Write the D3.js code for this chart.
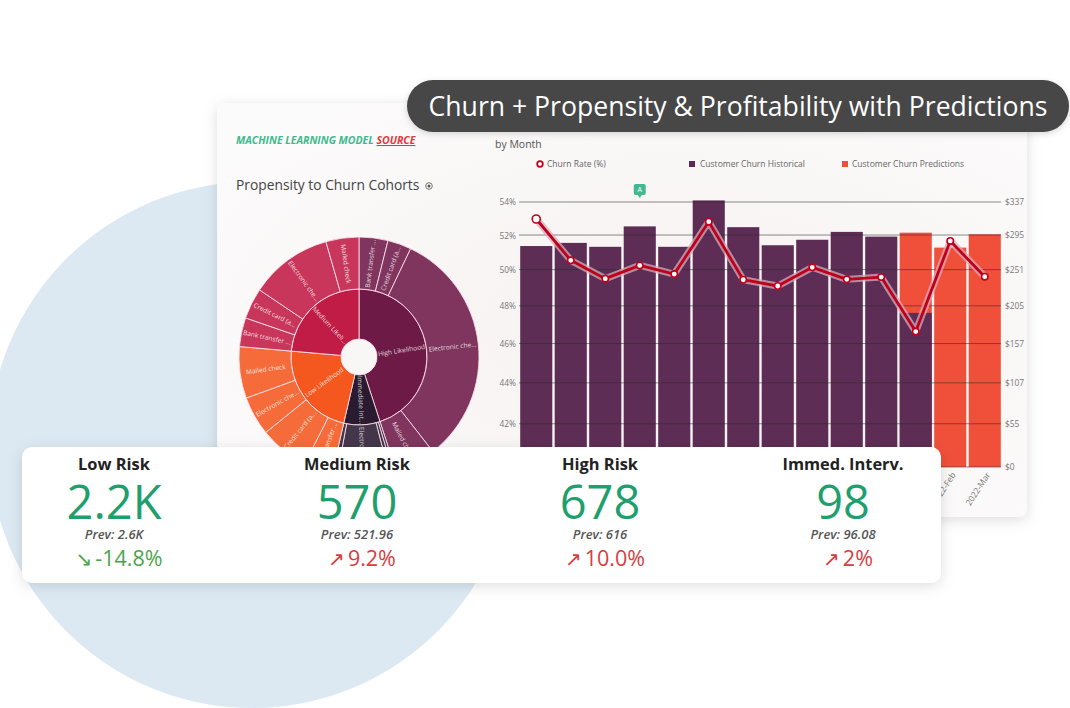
<!DOCTYPE html>
<html><head><meta charset="utf-8">
<script src="https://cdn.jsdelivr.net/npm/d3@7"></script>
<style>
html,body{margin:0;padding:0;background:#fff;}
svg{display:block;font-family:"Open Sans",sans-serif;}
</style></head>
<body><svg id="c" width="1070" height="708"></svg>
<script>
// ---------- DATA ----------
const months = ["2021-Feb","2021-Mar","2021-Apr","2021-May","2021-Jun","2021-Jul","2021-Aug","2021-Sep","2021-Oct","2021-Nov","2021-Dec","2022-Jan","2022-Feb","2022-Mar"];
const churnHistorical = [281,285,280,306,280,339,305,282,289,299,293,196,null,null];
const churnPredictions = [null,null,null,null,null,null,null,null,null,null,null,298,279,296];
const churnRate = [52.97,50.55,49.51,50.26,49.77,52.81,49.45,49.10,50.15,49.47,49.60,46.63,51.67,49.62];
const pctTicks = [42,44,46,48,50,52,54];
const dollarTicks = [0,55,107,157,205,251,295,337];

const cohorts = ["High Likelihood","Immediate Intervention","Low Likelihood","Medium Likelihood"];
const methods = ["Bank transfer (automatic)","Credit card (automatic)","Electronic check","Mailed check"];
const cohortMethodValues = [[14,11.5,116.5,20],[1.5,2,25,2.5],[14,24,19,25],[14,15,40,16]];
const cohortColors = ["#6d1a47","#2a1b31","#f4581f","#c01c45"];

const kpiTitles = ["Low Risk","Medium Risk","High Risk","Immed. Interv."];
const kpiValues = ["2.2K","570","678","98"];
const kpiPrev = ["Prev: 2.6K","Prev: 521.96","Prev: 616","Prev: 96.08"];
const kpiChange = ["-14.8%","9.2%","10.0%","2%"];
const kpiUp = [false,true,true,true];

// ---------- SETUP ----------
const svg = d3.select("#c");
const defs = svg.append("defs");
const f = defs.append("filter").attr("id","sh").attr("x","-10%").attr("y","-15%").attr("width","120%").attr("height","140%");
f.append("feDropShadow").attr("dx",0).attr("dy",3).attr("stdDeviation",7).attr("flood-color","#000").attr("flood-opacity",0.13);
const f2 = defs.append("filter").attr("id","sh2").attr("x","-10%").attr("y","-30%").attr("width","120%").attr("height","170%");
f2.append("feDropShadow").attr("dx",0).attr("dy",2).attr("stdDeviation",3).attr("flood-color","#000").attr("flood-opacity",0.15);
const rg = defs.append("radialGradient").attr("id","pbg").attr("cx","0.55").attr("cy","0.55").attr("r","0.7");
rg.append("stop").attr("offset","0").attr("stop-color","#f6f1f0");
rg.append("stop").attr("offset","1").attr("stop-color","#fcfbfb");

// background circle
svg.append("circle").attr("cx",252).attr("cy",445).attr("r",263).attr("fill","#dce9f3");

// main panel
svg.append("rect").attr("x",217).attr("y",103).attr("width",810).attr("height",414).attr("rx",8)
  .attr("fill","url(#pbg)").attr("filter","url(#sh)");

// title pill
svg.append("rect").attr("x",407).attr("y",80).attr("width",662).attr("height",52).attr("rx",26)
  .attr("fill","#474747").attr("filter","url(#sh2)");
svg.append("text").attr("x",738).attr("y",107).attr("dy","0.35em").attr("text-anchor","middle")
  .attr("fill","#fff").attr("font-size",26.6).text("Churn + Propensity & Profitability with Predictions");

// left header
const hdr = svg.append("text").attr("x",236).attr("y",144).attr("font-size",10.5).attr("font-style","italic").attr("font-weight",700);
hdr.append("tspan").attr("fill","#3dba8c").text("MACHINE LEARNING MODEL ");
hdr.append("tspan").attr("fill","#e0393e").attr("text-decoration","underline").text("SOURCE");
svg.append("text").attr("x",236).attr("y",190).attr("font-size",13.8).attr("fill","#444").text("Propensity to Churn Cohorts");
svg.append("circle").attr("cx",429).attr("cy",186).attr("r",3.3).attr("fill","none").attr("stroke","#666").attr("stroke-width",0.9);
svg.append("circle").attr("cx",429).attr("cy",186).attr("r",1.5).attr("fill","#555");

// ---------- SUNBURST ----------
const hdata = {name:"root", children: cohorts.map((c,i)=>({name:c, ci:i, children: methods.map((m,j)=>({name:m, ci:i, value:cohortMethodValues[i][j]}))}))};
const root = d3.hierarchy(hdata).sum(d=>d.value||0);
d3.partition().size([2*Math.PI,1])(root);
const rIn = d=> d.depth===1?18:68, rOut = d=> d.depth===1?68:120;
const arc = d3.arc().startAngle(d=>d.x0).endAngle(d=>d.x1).innerRadius(rIn).outerRadius(rOut);
const sb = svg.append("g").attr("transform","translate(359,357)");
const nodes = root.descendants().filter(d=>d.depth>0);
sb.selectAll("path").data(nodes).join("path")
  .attr("d",arc)
  .attr("fill",d=>{const c=cohortColors[d.data.ci]; return d.depth===1?c:d3.interpolateRgb(c,"#ffffff")(0.12);})
  .attr("stroke","rgba(255,225,236,0.85)").attr("stroke-width",1);
const trunc = (s,depth)=>{ const n = depth===1?13:14; return s.length>15 ? s.slice(0,n)+"..." : s; };
sb.selectAll("text").data(nodes.filter(d=>(d.x1-d.x0)*(rIn(d)+rOut(d))/2>7)).join("text")
  .attr("transform",d=>{const a=(d.x0+d.x1)/2*180/Math.PI, r=(rIn(d)+rOut(d))/2; return `rotate(${a-90}) translate(${r},0) rotate(${a<180?0:180})`;})
  .attr("text-anchor","middle").attr("dy","0.35em").attr("font-size",6.6).attr("fill","rgba(255,255,255,0.82)")
  .text(d=>trunc(d.data.name,d.depth));

// ---------- BAR/LINE CHART ----------
const x = d3.scaleBand().domain(months).range([519,1002]).paddingInner(0.07).paddingOuter(0.035);
const yPct = d3.scaleLog().domain([40,54]).range([467,202]);
const yDol = d3.scaleLinear().domain([0,337]).range([467,202]);

svg.append("text").attr("x",495).attr("y",148).attr("font-size",10.5).attr("fill","#555").text("by Month");
// legend
const lg = svg.append("g").attr("font-size",8.5).attr("fill","#666");
lg.append("circle").attr("cx",540).attr("cy",164).attr("r",2.8).attr("fill","#fff").attr("stroke","#c0001a").attr("stroke-width",1.8);
lg.append("text").attr("x",547).attr("y",164).attr("dy","0.35em").text("Churn Rate (%)");
lg.append("rect").attr("x",689).attr("y",161).attr("width",6).attr("height",6).attr("fill","#5e2a55");
lg.append("text").attr("x",700).attr("y",164).attr("dy","0.35em").text("Customer Churn Historical");
lg.append("rect").attr("x",842).attr("y",161).attr("width",6).attr("height",6).attr("fill","#f0503a");
lg.append("text").attr("x",852).attr("y",164).attr("dy","0.35em").text("Customer Churn Predictions");

// bars
svg.append("g").selectAll("rect").data(months.map((m,i)=>({m,v:churnPredictions[i]})).filter(d=>d.v!=null)).join("rect")
  .attr("x",d=>x(d.m)).attr("width",x.bandwidth()).attr("y",d=>yDol(d.v)).attr("height",d=>yDol(0)-yDol(d.v)).attr("fill","#f0503a");
svg.append("g").selectAll("rect").data(months.map((m,i)=>({m,v:churnHistorical[i]})).filter(d=>d.v!=null)).join("rect")
  .attr("x",d=>x(d.m)).attr("width",x.bandwidth()).attr("y",d=>yDol(d.v)).attr("height",d=>yDol(0)-yDol(d.v)).attr("fill","#5e2d55");

// gridlines
svg.append("g").selectAll("line").data(dollarTicks).join("line")
  .attr("x1",519).attr("x2",1001).attr("y1",d=>yDol(d)).attr("y2",d=>yDol(d))
  .attr("stroke","#2a2a2a").attr("stroke-opacity",0.6).attr("stroke-width",0.9);

// axes
const axL = svg.append("g").attr("transform","translate(518,0)")
  .call(d3.axisLeft(yPct).tickValues(pctTicks).tickFormat(d=>d+"%").tickSize(0).tickPadding(2));
const axR = svg.append("g").attr("transform","translate(1002,0)")
  .call(d3.axisRight(yDol).tickValues(dollarTicks).tickFormat(d=>"$"+d).tickSize(0).tickPadding(3));
const axB = svg.append("g").attr("transform","translate(0,468)")
  .call(d3.axisBottom(x).tickSize(0).tickPadding(4));
axB.selectAll("text").attr("text-anchor","end").attr("transform","rotate(-57)").attr("dx","-0.3em").attr("dy","0.55em");
[axL,axR,axB].forEach(a=>{a.select(".domain").remove(); a.selectAll("text").attr("font-family","Open Sans").attr("font-size",8.4).attr("fill","#777");});

// line
const pts = months.map((m,i)=>[x(m)+x.bandwidth()/2, yPct(churnRate[i])]);
const lineGen = d3.line();
svg.append("path").attr("d",lineGen(pts)).attr("fill","none").attr("stroke","rgba(215,170,185,0.75)").attr("stroke-width",7).attr("stroke-linejoin","round");
svg.append("path").attr("d",lineGen(pts)).attr("fill","none").attr("stroke","#c0001a").attr("stroke-width",2.8).attr("stroke-linejoin","round");
svg.append("g").selectAll("circle").data(pts).join("circle")
  .attr("cx",d=>d[0]).attr("cy",d=>d[1]).attr("r",(d,i)=>i===0?4:3.2)
  .attr("fill","#fff").attr("stroke","#c0001a").attr("stroke-width",1.6);

// annotation badge
const bx = x(months[3])+x.bandwidth()/2;
svg.append("rect").attr("x",bx-6).attr("y",184).attr("width",12).attr("height",11).attr("rx",2).attr("fill","#45b793");
svg.append("path").attr("d",`M${bx-2},195 L${bx},198 L${bx+2},195 Z`).attr("fill","#45b793");
svg.append("text").attr("x",bx).attr("y",189.5).attr("dy","0.35em").attr("text-anchor","middle").attr("font-size",7).attr("fill","#fff").text("A");

// ---------- KPI CARD ----------
svg.append("rect").attr("x",22).attr("y",447).attr("width",919).attr("height",136).attr("rx",10)
  .attr("fill","#fff").attr("filter","url(#sh)");
const kx = d3.scaleLinear().domain([0,1]).range([114,357]);
kpiTitles.forEach((t,i)=>{
  const cx = kx(i);
  svg.append("text").attr("x",cx).attr("y",470).attr("text-anchor","middle").attr("font-size",16.4).attr("font-weight",700).attr("fill","#222").text(t);
  svg.append("text").attr("x",cx).attr("y",519).attr("text-anchor","middle").attr("font-size",47).attr("fill","#1f9f6e").text(kpiValues[i]);
  svg.append("text").attr("x",cx).attr("y",539).attr("text-anchor","middle").attr("font-size",13).attr("font-style","italic").attr("font-weight",600).attr("fill","#555").text(kpiPrev[i]);
  const col = kpiUp[i] ? "#d63d3d" : "#4aa54a";
  const ch = svg.append("text").attr("x",cx+5).attr("y",566).attr("text-anchor","middle").attr("font-size",21.5).attr("fill",col);
  ch.append("tspan").attr("font-family","DejaVu Sans").attr("font-size",20).text(kpiUp[i]?"↗":"↘");
  ch.append("tspan").attr("dx",3).text(kpiChange[i]);
});
</script></body></html>
